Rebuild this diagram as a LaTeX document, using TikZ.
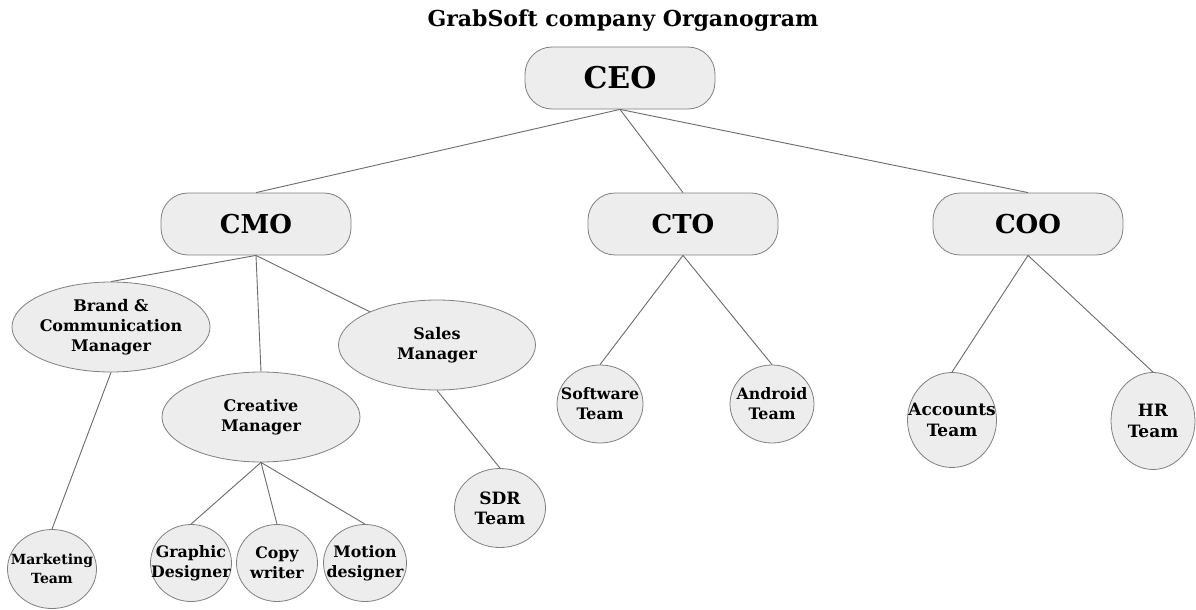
\documentclass[tikz,border=0pt]{standalone}
\usepackage{fontspec}
\setmainfont{DejaVu Serif}
\newfontfamily\dvsf{DejaVu Serif}
\usetikzlibrary{shapes.geometric}
\newcommand\zc[1]{\makebox[0pt]{#1}}
\tikzset{
  boxnode/.style={draw=black!50, fill=black!7, line width=0.8pt, rounded corners=27pt,
    minimum width=190pt, minimum height=62pt, inner sep=0pt,
    font=\dvsf\bfseries\fontsize{26}{30}\selectfont},
  ellnode/.style={ellipse, draw=black!50, fill=black!7, line width=0.8pt, inner sep=0pt,
    align=center, font=\dvsf\bfseries\fontsize{16}{20}\selectfont},
  circnode/.style={ellipse, draw=black!50, fill=black!7, line width=0.8pt, inner sep=0pt,
    align=center, font=\dvsf\bfseries\fontsize{15.8}{20}\selectfont},
  link/.style={draw=black!58, line width=0.9pt}
}
\begin{document}
\begin{tikzpicture}[x=1pt,y=-1pt]
\fill[white] (0,0) rectangle (1196,610);
\useasboundingbox (0,0) rectangle (1196,610);

\node[font=\dvsf\bfseries\fontsize{22}{26}\selectfont, anchor=base] (title) at (623,27) {GrabSoft company Organogram};

\node[boxnode, font=\dvsf\bfseries\fontsize{30}{33}\selectfont] (ceo) at (620,78) {CEO};
\node[boxnode] (cmo) at (256,224) {CMO};
\node[boxnode] (cto) at (683,224) {CTO};
\node[boxnode] (coo) at (1028,224) {COO};

\node[ellnode, minimum width=198pt, minimum height=90pt] (brand) at (111,327) {\zc{Brand \&}\\\zc{Communication}\\\zc{Manager}};
\node[ellnode, minimum width=198pt, minimum height=90pt] (creative) at (261,417) {\zc{Creative}\\\zc{Manager}};
\node[ellnode, minimum width=197pt, minimum height=90pt] (sales) at (437,345) {\zc{Sales}\\\zc{Manager}};

\node[circnode, minimum width=89pt, minimum height=79pt, font=\dvsf\bfseries\fontsize{14}{19}\selectfont] (marketing) at (52,569) {\zc{Marketing}\\\zc{Team}};
\node[circnode, minimum width=81pt, minimum height=77pt] (graphic) at (191,563) {\zc{Graphic}\\\zc{Designer}};
\node[circnode, minimum width=81pt, minimum height=77pt] (copy) at (277,563) {\zc{Copy}\\\zc{writer}};
\node[circnode, minimum width=83pt, minimum height=77pt] (motion) at (365,563) {\zc{Motion}\\\zc{designer}};
\node[circnode, minimum width=91pt, minimum height=79pt, font=\dvsf\bfseries\fontsize{17}{20}\selectfont] (sdr) at (500,508) {\zc{SDR}\\\zc{Team}};

\node[circnode, minimum width=86pt, minimum height=78pt] (software) at (600,404) {\zc{Software}\\\zc{Team}};
\node[circnode, minimum width=84pt, minimum height=78pt] (android) at (772,404) {\zc{Android}\\\zc{Team}};
\node[circnode, minimum width=89pt, minimum height=95pt, font=\dvsf\bfseries\fontsize{17}{21}\selectfont] (accounts) at (952,420) {\zc{Accounts}\\\zc{Team}};
\node[circnode, minimum width=84pt, minimum height=97pt, font=\dvsf\bfseries\fontsize{17}{21}\selectfont] (hr) at (1153,421) {\zc{HR}\\\zc{Team}};

\draw[link] (ceo.south) -- (cmo.north);
\draw[link] (ceo.south) -- (cto.north);
\draw[link] (ceo.south) -- (coo.north);

\draw[link] (cmo.south) -- (brand.north);
\draw[link] (cmo.south) -- (creative.north);
\draw[link] (cmo.south) -- (sales);

\draw[link] (brand.south) -- (marketing.north);
\draw[link] (creative.south) -- (graphic.north);
\draw[link] (creative.south) -- (copy.north);
\draw[link] (creative.south) -- (motion.north);
\draw[link] (sales.south) -- (sdr.north);

\draw[link] (cto.south) -- (software.north);
\draw[link] (cto.south) -- (android.north);
\draw[link] (coo.south) -- (accounts.north);
\draw[link] (coo.south) -- (hr.north);
\end{tikzpicture}
\end{document}
